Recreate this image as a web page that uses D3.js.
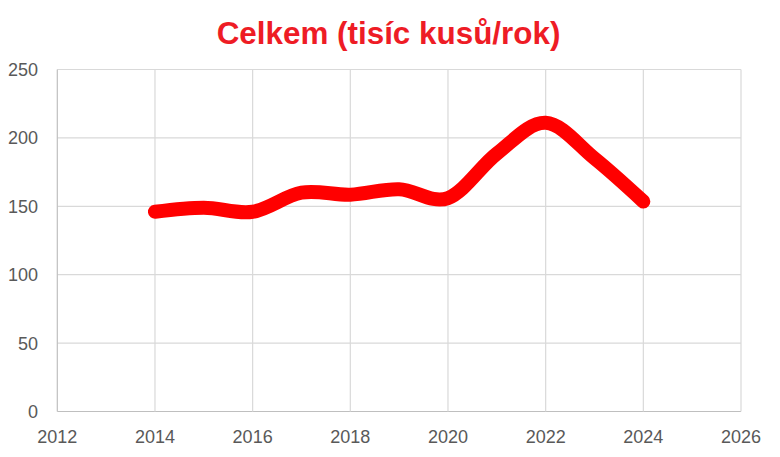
<!DOCTYPE html>
<html><head><meta charset="utf-8">
<script src="https://cdn.jsdelivr.net/npm/d3@7"></script>
<style>body{margin:0;background:#fff}svg{display:block}</style>
</head><body>
<script>
const titleText = "Celkem (tisíc kusů/rok)";
const years = [2014,2015,2016,2017,2018,2019,2020,2021,2022,2023,2024];
const values = [146,149,146,160,158.5,162.5,156,188.5,211,185,153.5];
const xTicks = [2012,2014,2016,2018,2020,2022,2024,2026];
const yTicks = [0,50,100,150,200,250];

const W=780,H=457;
const L=57.3,R=741,T=69.5,B=411.5;
const svg=d3.select("body").append("svg").attr("width",W).attr("height",H);
const x=d3.scaleLinear().domain([2012,2026]).range([L,R]);
const y=d3.scaleLinear().domain([0,250]).range([B,T]);
const font="'Liberation Sans', Arial, sans-serif";

svg.append("g").selectAll("line").data(yTicks).join("line")
  .attr("x1",L).attr("x2",R).attr("y1",d=>y(d)).attr("y2",d=>y(d))
  .attr("stroke",d=>d===0?"#bfbfbf":"#d9d9d9").attr("stroke-width",1.2);
svg.append("g").selectAll("line").data(xTicks).join("line")
  .attr("y1",T).attr("y2",B).attr("x1",d=>x(d)).attr("x2",d=>x(d))
  .attr("stroke",d=>d===2012?"#bfbfbf":"#d9d9d9").attr("stroke-width",1.2);

svg.append("g").selectAll("text").data(yTicks).join("text")
  .attr("x",38).attr("y",d=>y(d)+6.5).attr("text-anchor","end")
  .attr("font-family",font).attr("font-size",18).attr("fill","#595959").text(d=>d);
svg.append("g").selectAll("text").data(xTicks).join("text")
  .attr("x",d=>x(d)).attr("y",442.5).attr("text-anchor","middle")
  .attr("font-family",font).attr("font-size",18).attr("fill","#595959").text(d=>d);

const line=d3.line().x((d,i)=>x(years[i])).y(d=>y(d)).curve(d3.curveCardinal.tension(0));
svg.append("path").attr("d",line(values)).attr("fill","none")
  .attr("stroke","#ff0000").attr("stroke-width",14)
  .attr("stroke-linecap","round").attr("stroke-linejoin","round");

svg.append("text").attr("x",388.5).attr("y",44).attr("text-anchor","middle")
  .attr("font-family",font).attr("font-weight","bold").attr("font-size",31.4)
  .attr("fill","#ee1c25").text(titleText);
</script>
</body></html>
